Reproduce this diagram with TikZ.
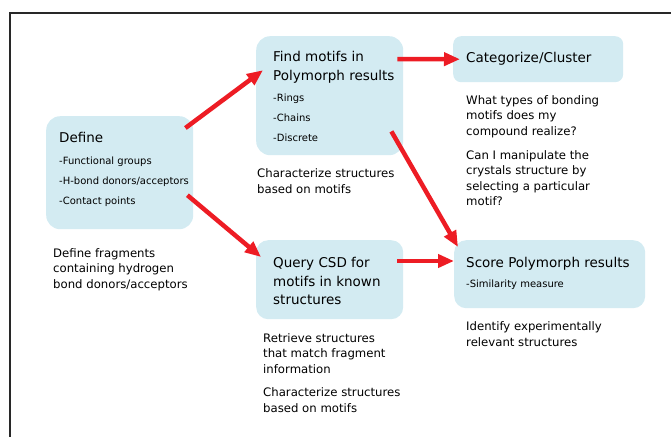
\documentclass[tikz,border=0pt]{standalone}
\usepackage{fontspec}
\setmainfont{DejaVu Sans}
\usetikzlibrary{arrows.meta,calc}

\begin{document}
\begin{tikzpicture}[x=1pt,y=-1pt,
  box/.style={fill=boxblue,rounded corners=14pt,anchor=north west,inner sep=0pt},
  title/.style={anchor=north west,inner sep=0pt,align=left,font=\fontsize{13.5}{18.3}\selectfont},
  item/.style={anchor=north west,inner sep=0pt,align=left,font=\fontsize{10}{20}\selectfont},
  note/.style={anchor=north west,inner sep=0pt,align=left,font=\fontsize{11.7}{15.5}\selectfont},
  flow/.style={draw=arrowred,line width=4.5pt,-{Triangle[length=16pt,width=13pt]}}]
% Define colors
\definecolor{boxblue}{RGB}{211,235,242}
\definecolor{arrowred}{RGB}{237,28,36}
\definecolor{framegray}{RGB}{40,40,40}

\useasboundingbox (0,0) rectangle (671,437);

% Frame
\draw[line width=1.3pt,framegray] (671,13) -- (10,13) -- (10,437);

% Boxes
\node[box,minimum width=147pt,minimum height=113pt] (define) at (46,116) {};
\node[box,minimum width=147pt,minimum height=119pt] (find) at (256,36) {};
\node[box,rounded corners=8pt,minimum width=170pt,minimum height=46pt] (cat) at (453,36) {};
\node[box,rounded corners=12pt,minimum width=147pt,minimum height=79pt] (query) at (256,240) {};
\node[box,rounded corners=12pt,minimum width=191pt,minimum height=68pt] (score) at (454,240) {};

% Box texts
\node[title] (definetitle) at (59,131.7) {Define};
\node[item] (defineitems) at (59,156.4) {-Functional groups\\-H-bond donors/acceptors\\-Contact points};

\node[title] (findtitle) at (273,51.4) {Find motifs in\\Polymorph results};
\node[item] (finditems) at (273,94.1) {-Rings\\-Chains\\-Discrete};

\node[title] (cattitle) at (466,52) {Categorize/Cluster};

\node[title] (querytitle) at (273,257.4) {Query CSD for\\motifs in known\\structures};

\node[title] (scoretitle) at (466,257.4) {Score Polymorph results};
\node[item] (scoreitems) at (466,280.1) {-Similarity measure};

% Notes below the boxes
\node[note] (definenote) at (53,248.1) {Define fragments\\containing hydrogen\\bond donors/acceptors};
\node[note] (findnote) at (257,168.8) {Characterize structures\\based on motifs};
\node[note] (catnote) at (466,95.1) {What types of bonding\\motifs does my\\compound realize?};
\node[note] (catnotetwo) at (466,150.4) {Can I manipulate the\\crystals structure by\\selecting a particular\\motif?};
\node[note] (querynote) at (263,333.2) {Retrieve structures\\that match fragment\\information};
\node[note] (querynotetwo) at (263,387.8) {Characterize structures\\based on motifs};
\node[note] (scorenote) at (466,321.8) {Identify experimentally\\relevant structures};

% Arrows
\draw[flow] ($(define.north east)+(-8,12)$) -- ($(find.west)+(7,-25.5)$);
\draw[flow] ($(define.east)+(-6,22.5)$) -- ($(query.north west)+(5,17)$);
\draw[flow] ($(find.north east)+(-6,23)$) -- ($(cat.west)+(7,0)$);
\draw[flow] ($(query.north east)+(-6,21)$) -- ($(score.north west)+(0,21)$);
\draw[flow] ($(find.south east)+(-12,-24)$) -- ($(score.north west)+(4,7)$);

\end{tikzpicture}
\end{document}
